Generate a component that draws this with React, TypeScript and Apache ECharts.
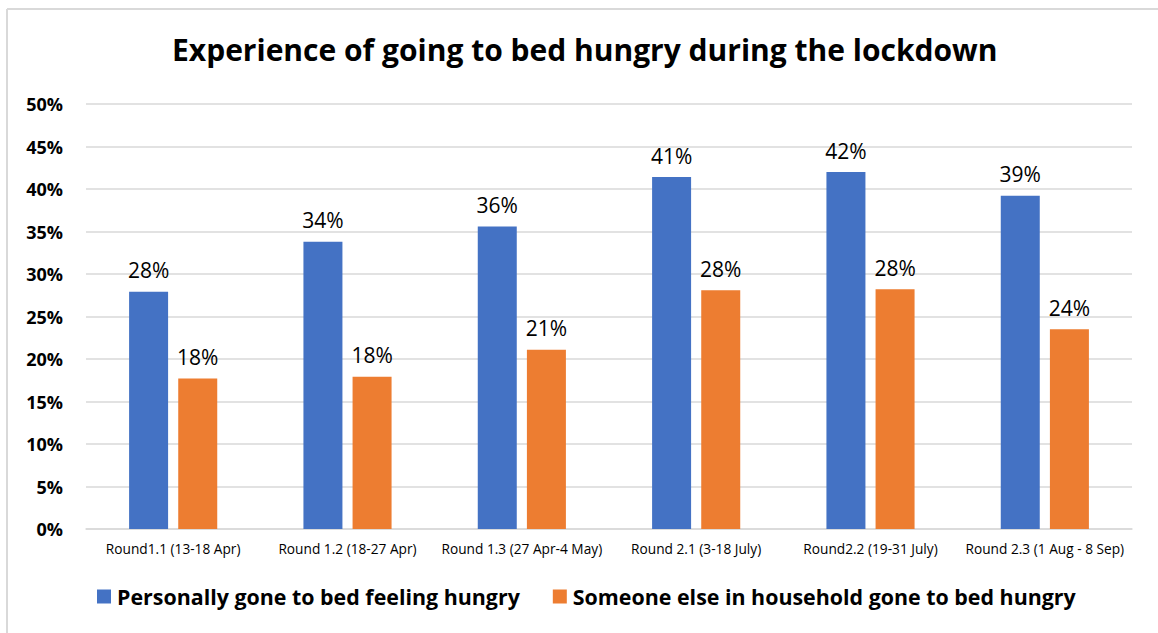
import React, { useEffect, useRef } from "react";
import * as echarts from "echarts";

const categories = [
  "Round1.1 (13-18 Apr)",
  "Round 1.2 (18-27 Apr)",
  "Round 1.3 (27 Apr-4 May)",
  "Round 2.1 (3-18 July)",
  "Round2.2 (19-31 July)",
  "Round 2.3 (1 Aug - 8 Sep)",
];
const personally = [27.9, 33.8, 35.6, 41.4, 42.0, 39.2];
const someoneElse = [17.7, 17.9, 21.1, 28.1, 28.2, 23.5];
const seriesNames = [
  "Personally gone to bed feeling hungry",
  "Someone else in household gone to bed hungry",
];
const titleText = "Experience of going to bed hungry during the lockdown";

const FONT = "'Open Sans', Lato, sans-serif";

export default function App() {
  const ref = useRef<HTMLDivElement>(null);
  useEffect(() => {
    if (!ref.current) return;
    const chart = echarts.init(ref.current, undefined, { renderer: "svg" });
    const label = {
      show: true,
      position: "top" as const,
      distance: 11,
      color: "#000",
      fontFamily: FONT,
      fontSize: 21,
      formatter: (p: any) => Math.round(p.value) + "%",
    };
    chart.setOption({
      animation: false,
      backgroundColor: "#fff",
      title: {
        text: titleText,
        left: 167,
        top: 29,
        textStyle: { fontFamily: FONT, fontSize: 30, fontWeight: "bold", color: "#000" },
      },
      graphic: [
        { type: "line", shape: { x1: 7, y1: 9, x2: 1158, y2: 9 }, style: { stroke: "#d9d9d9", lineWidth: 2 } },
        { type: "line", shape: { x1: 7, y1: 9, x2: 7, y2: 633 }, style: { stroke: "#d9d9d9", lineWidth: 2 } },
      ],
      grid: { left: 86, right: 26, top: 104, bottom: 104 },
      legend: {
        bottom: 21,
        left: 92,
        itemWidth: 14,
        itemHeight: 14,
        itemGap: 33,
        icon: "rect",
        textStyle: { fontFamily: FONT, fontSize: 21.4, fontWeight: "bold", color: "#000", padding: [0, 0, 0, 1] },
        data: seriesNames,
      },
      xAxis: {
        type: "category",
        data: categories,
        axisTick: { show: false },
        axisLine: { lineStyle: { color: "#d9d9d9", width: 1.5 } },
        axisLabel: { fontFamily: FONT, fontSize: 13.7, color: "#000", margin: 12, interval: 0 },
      },
      yAxis: {
        type: "value",
        min: 0,
        max: 50,
        interval: 5,
        axisLabel: {
          formatter: "{value}%",
          fontFamily: FONT,
          fontSize: 18,
          fontWeight: "bold",
          color: "#000",
          margin: 23,
        },
        splitLine: { lineStyle: { color: "#d9d9d9", width: 1.5 } },
      },
      series: [
        {
          name: seriesNames[0],
          type: "bar",
          data: personally,
          barWidth: 39,
          barGap: "26%",
          itemStyle: { color: "#4472c4" },
          label,
        },
        {
          name: seriesNames[1],
          type: "bar",
          data: someoneElse,
          barWidth: 39,
          itemStyle: { color: "#ed7d31" },
          label,
        },
      ],
    });
    return () => chart.dispose();
  }, []);
  return (
    <div
      ref={ref}
      style={{ position: "fixed", left: 0, top: 0, width: 1158, height: 633, background: "#fff" }}
    />
  );
}
